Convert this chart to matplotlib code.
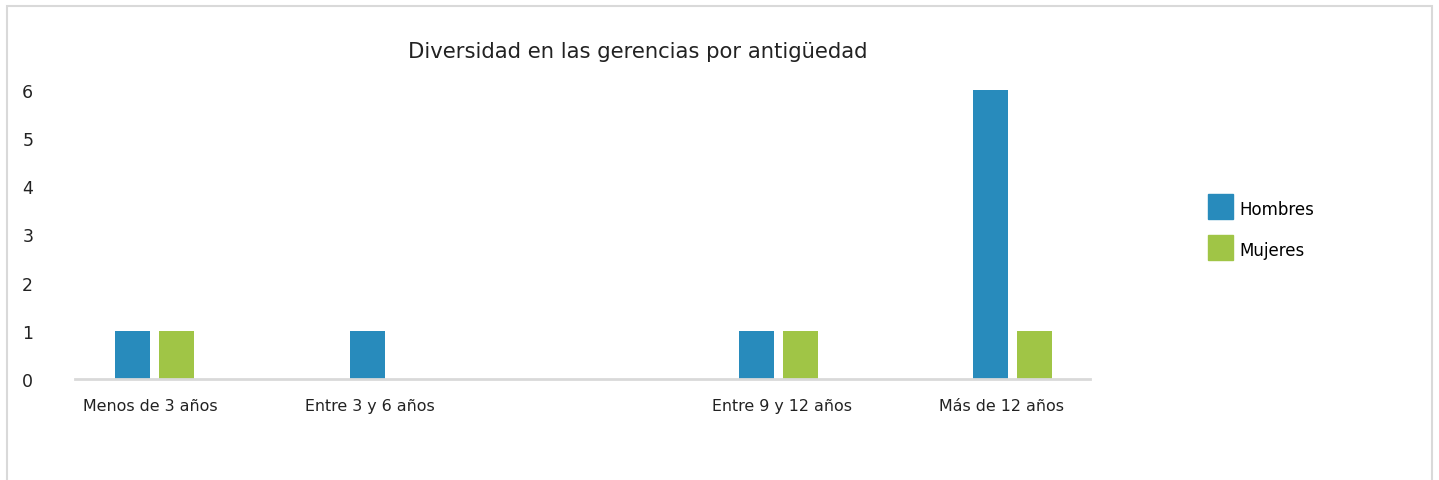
import numpy as np
import matplotlib
matplotlib.use('Agg')
import matplotlib.pyplot as plt
from matplotlib.patches import Rectangle
from matplotlib.lines import Line2D

categorias = ['Menos de 3 años', 'Entre 3 y 6 años', 'Entre 9 y 12 años', 'Más de 12 años']
hombres = [1, 1, 1, 6]
mujeres = [1, 0, 1, 1]
yticks = [0, 1, 2, 3, 4, 5, 6]

azul = '#288BBC'
verde = '#A0C546'

plt.rcParams['font.family'] = ['DejaVu Sans']

fig = plt.figure(figsize=(14.39, 4.81), dpi=100)
# marco gris alrededor del grafico
fig.patches.append(Rectangle((7/1439, -0.1), 1425/1439, 1.1 - 7/481,
                             transform=fig.transFigure, fill=False,
                             edgecolor='#D9D9D9', linewidth=1.5))

ax = fig.add_axes([75/1439, 101/481, 1015/1439, 289/481])

# posiciones de los grupos (el hueco entre el 2do y 3er grupo es como en el original)
pos = np.array([0, 1, 2.655, 3.65])
w = 0.149
d = 0.0936
ax.bar(pos - d, hombres, width=w, color=azul)
ax.bar(pos + d, mujeres, width=w, color=verde)

ax.set_xlim(-0.338, 3.98)
ax.set_ylim(0, 6)
# las etiquetas del original no quedan exactamente centradas
ax.set_xticks([-0.019, 0.917, 2.670, 3.602])
ax.set_xticklabels(categorias, fontsize=11.4, color='#222222')
ax.set_yticks(yticks)
ax.set_yticklabels([str(v) for v in yticks], fontsize=12.5, color='#222222', ha='left')
ax.tick_params(axis='y', length=0, pad=38)
ax.tick_params(axis='x', length=0, pad=14)

for s in ['top', 'right', 'left']:
    ax.spines[s].set_visible(False)
ax.spines['bottom'].set_color('#D9D9D9')
ax.spines['bottom'].set_linewidth(2)

fig.text(638/1439, 1 - 52/481, 'Diversidad en las gerencias por antigüedad',
         ha='center', va='center', fontsize=15.2, color='#222222')

handles = [Line2D([], [], marker='s', linestyle='', markersize=18, color=azul),
           Line2D([], [], marker='s', linestyle='', markersize=18, color=verde)]
leg = fig.legend(handles, ['Hombres', 'Mujeres'], loc='upper left',
                 bbox_to_anchor=(1207/1439, 1 - 199/481),
                 frameon=False, fontsize=12, handlelength=1.5, handleheight=1.5,
                 labelspacing=1.25, handletextpad=0.42, borderaxespad=0, borderpad=0)

fig.savefig('out.png', dpi=100)
